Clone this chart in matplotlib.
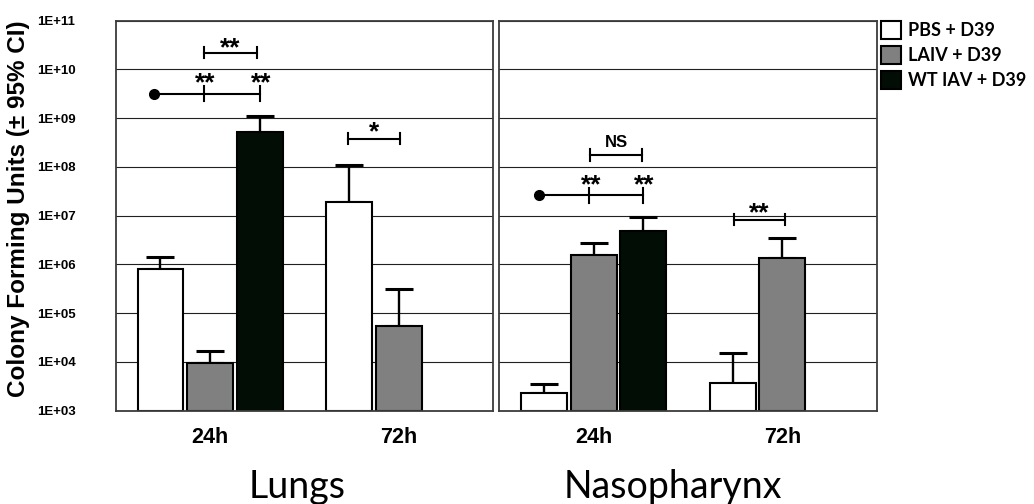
import numpy as np
import matplotlib
matplotlib.use("Agg")
import matplotlib.pyplot as plt
from matplotlib.patches import Patch
from matplotlib.ticker import FixedLocator, NullLocator, FixedFormatter

# ---- data -------------------------------------------------------------
timepoints = ["24h", "72h"]
treatments = ["PBS + D39", "LAIV + D39", "WT IAV + D39"]
tissues = ["Lungs", "Nasopharynx"]

# geometric mean CFU and upper 95% CI bound for each time point
lungs_pbs = [8.1e5, 1.9e7]
lungs_pbs_hi = [1.45e6, 1.1e8]
lungs_laiv = [9.4e3, 5.4e4]
lungs_laiv_hi = [1.7e4, 3.1e5]
lungs_wt = [5.1e8, np.nan]
lungs_wt_hi = [1.1e9, np.nan]

naso_pbs = [2.3e3, 3.7e3]
naso_pbs_hi = [3.6e3, 1.55e4]
naso_laiv = [1.6e6, 1.35e6]
naso_laiv_hi = [2.7e6, 3.5e6]
naso_wt = [4.9e6, np.nan]
naso_wt_hi = [9.5e6, np.nan]

ytick_values = [1e3, 1e4, 1e5, 1e6, 1e7, 1e8, 1e9, 1e10, 1e11]
ytick_labels = ["1E+03", "1E+04", "1E+05", "1E+06", "1E+07",
                "1E+08", "1E+09", "1E+10", "1E+11"]

# ---- style ------------------------------------------------------------
BASE = 1e3
SLOT = 0.263
BAR_W = 0.243
bar_colors = ["white", "#808080", "#010d05"]
SANS = "Liberation Sans"
LW = 1.5

fig = plt.figure(figsize=(10.34, 5.04), dpi=100)
ax_l = fig.add_axes([0.1119, 0.1851, 0.3652, 0.7738])
ax_r = fig.add_axes([0.4829, 0.1851, 0.3650, 0.7738])


def center(group, k):
    return group + (k - 1) * SLOT


def draw_bars(ax, means, highs):
    x = np.arange(len(timepoints))
    for k, (m, h) in enumerate(zip(means, highs)):
        m = np.asarray(m, float)
        h = np.asarray(h, float)
        ok = ~np.isnan(m)
        pos = center(x, k)[ok]
        ax.bar(pos, m[ok] - BASE, bottom=BASE, width=BAR_W,
               color=bar_colors[k], edgecolor="black", linewidth=LW, zorder=3)
        ax.errorbar(pos, m[ok], yerr=[np.zeros(ok.sum()), h[ok] - m[ok]],
                    fmt="none", ecolor="black", elinewidth=1.7,
                    capsize=10, capthick=2.2, zorder=2)


def style_axes(ax, show_labels):
    ax.set_yscale("log")
    ax.set_ylim(1e3, 1e11)
    ax.set_xlim(-0.5, 1.5)
    ax.yaxis.set_major_locator(FixedLocator(ytick_values))
    ax.yaxis.set_minor_locator(NullLocator())
    ax.xaxis.set_minor_locator(NullLocator())
    if show_labels:
        ax.yaxis.set_major_formatter(FixedFormatter(ytick_labels))
    else:
        ax.set_yticklabels([])
    ax.set_xticks(range(len(timepoints)))
    ax.set_xticklabels(timepoints)
    ax.tick_params(axis="y", length=0, pad=29)
    ax.tick_params(axis="x", length=0, pad=12)
    for lab in ax.get_yticklabels():
        lab.set_fontfamily(SANS)
        lab.set_fontweight("bold")
        lab.set_fontsize(9.5)
    for lab in ax.get_xticklabels():
        lab.set_fontfamily(SANS)
        lab.set_fontweight("bold")
        lab.set_fontsize(15.5)
    ax.grid(axis="y", color="#202020", linewidth=0.8)
    ax.set_axisbelow(True)
    for sp in ax.spines.values():
        sp.set_color("#3c3c3c")
        sp.set_linewidth(1.3)
        sp.set_zorder(5)


T_BR = 10 ** 0.113
T_DOT = 10 ** 0.15


def bracket(ax, x0, x1, y, label, size, dy, weight="bold"):
    ax.plot([x0, x1], [y, y], color="black", lw=LW, zorder=4)
    for xx in (x0, x1):
        ax.plot([xx, xx], [y / T_BR, y * T_BR], color="black", lw=LW, zorder=4)
    ax.annotate(label, ((x0 + x1) / 2, y), xytext=(0, dy),
                textcoords="offset points", ha="center", va="baseline",
                fontfamily=SANS, fontweight=weight, fontsize=size)


def dot_line(ax, x_dot, x_ticks, y, labels, size, dy):
    ax.plot([x_dot, x_ticks[-1]], [y, y], color="black", lw=LW, zorder=4)
    ax.plot([x_dot], [y], "o", color="black", ms=7, zorder=4)
    for xx, lab in zip(x_ticks, labels):
        ax.plot([xx, xx], [y / T_DOT, y * T_DOT], color="black", lw=LW, zorder=4)
        ax.annotate(lab, (xx, y), xytext=(1, dy), textcoords="offset points",
                    ha="center", va="baseline", fontfamily=SANS,
                    fontweight="bold", fontsize=size)


STAR = 19

# ---- lungs ------------------------------------------------------------
draw_bars(ax_l, [lungs_pbs, lungs_laiv, lungs_wt],
          [lungs_pbs_hi, lungs_laiv_hi, lungs_wt_hi])
style_axes(ax_l, True)
bracket(ax_l, center(0, 1) - 0.03, center(0, 2) - 0.016, 2.2e10, "**", STAR, -1.5)
dot_line(ax_l, center(0, 0) - 0.034, [center(0, 1) - 0.035, center(0, 2)],
         3.2e9, ["**", "**"], STAR, 2)
bracket(ax_l, center(1, 0) - 0.005, center(1, 1) + 0.007, 3.8e8, "*", STAR, -0.5)

# ---- nasopharynx ------------------------------------------------------
draw_bars(ax_r, [naso_pbs, naso_laiv, naso_wt],
          [naso_pbs_hi, naso_laiv_hi, naso_wt_hi])
style_axes(ax_r, False)
bracket(ax_r, center(0, 1) - 0.02, center(0, 2) - 0.007, 1.76e8, "NS", 12, 6)
dot_line(ax_r, center(0, 0) - 0.025, [center(0, 1) - 0.023, center(0, 2) - 0.002],
         2.6e7, ["**", "**"], STAR, 2)
bracket(ax_r, center(1, 0) + 0.004, center(1, 1) + 0.015, 8.3e6, "**", STAR, -0.5)

# ---- labels -----------------------------------------------------------
fig.text(19 / 1034, 1 - 208.5 / 504, "Colony Forming Units (\u00b1 95% CI)",
         rotation=90, ha="center", va="center", fontfamily=SANS,
         fontweight="bold", fontsize=17.5)
fig.text(297 / 1034, 1 - 498 / 504, tissues[0], ha="center", va="baseline",
         fontfamily="Lato", fontsize=27)
fig.text(672.5 / 1034, 1 - 498 / 504, tissues[1], ha="center", va="baseline",
         fontfamily="Lato", fontsize=27)

handles = [Patch(facecolor=c, edgecolor="black", linewidth=LW) for c in bar_colors]
fig.legend(handles, treatments, loc="upper left",
           bbox_to_anchor=(881 / 1034, 1 - 21 / 504), frameon=False,
           prop={"family": "Lato", "weight": "bold", "size": 13},
           handlelength=1.12, handleheight=1.12, handletextpad=0.35,
           labelspacing=0.4, borderpad=0, borderaxespad=0)

fig.savefig("out.png", dpi=100)
